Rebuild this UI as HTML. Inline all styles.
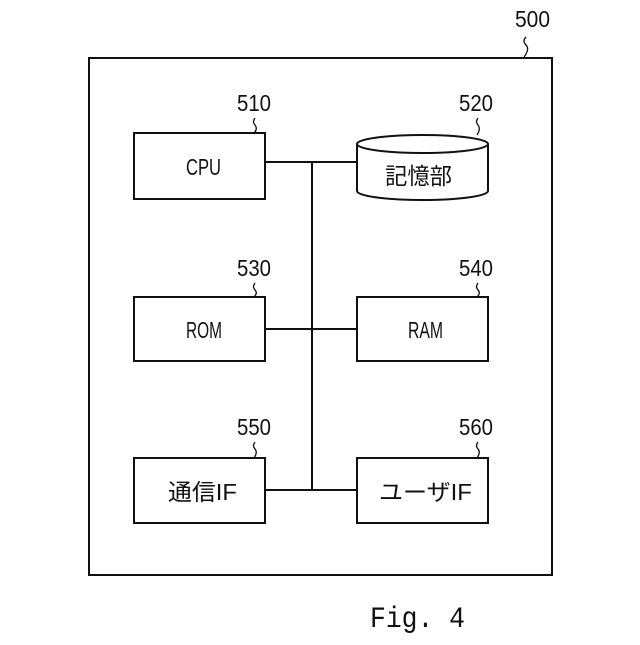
<!DOCTYPE html>
<html><head><meta charset="utf-8"><style>
html,body{margin:0;padding:0;background:#fff;}
text{font-family:"Liberation Sans","Noto Sans CJK JP",sans-serif;fill:#111;}
</style></head><body>
<svg width="640" height="640" viewBox="0 0 640 640" xmlns="http://www.w3.org/2000/svg">
<g fill="none" stroke="#111" stroke-width="2">
<rect x="89" y="58" width="463" height="517"/>
<rect x="134" y="133" width="131" height="66"/>
<path d="M357 144 V191 A65.5 9 0 0 0 488 191 V144"/>
<ellipse cx="422.5" cy="144" rx="65.5" ry="9"/>
<rect x="134" y="297" width="131" height="64"/>
<rect x="357" y="297" width="131" height="64"/>
<rect x="134" y="458" width="131" height="65"/>
<rect x="357" y="458" width="131" height="65"/>
<path d="M312 162 V490 M265 162 H357 M265 329 H357 M265 490 H357"/>
</g>
<g fill="none" stroke="#111" stroke-width="1.3">
<path d="M526 37 q-4 4 0 8 q4 4 -2 12"/>
<path d="M255 118 q-3 4 0 7 q3 4 -1 8"/>
<path d="M478 118 q-3 4 0 7 q3 4 -1 10"/>
<path d="M255 283 q-3 4 0 7 q3 3 -1 7"/>
<path d="M478 283 q-3 4 0 7 q3 3 -1 7"/>
<path d="M255 442 q-3 4 0 7 q3 3 -1 9"/>
<path d="M478 442 q-3 4 0 7 q3 3 -1 9"/>
</g>
<g font-size="23" lengthAdjust="spacingAndGlyphs">
<text x="515" y="27" textLength="35" lengthAdjust="spacingAndGlyphs">500</text>
<text x="237" y="111" textLength="34" lengthAdjust="spacingAndGlyphs">510</text>
<text x="459" y="111" textLength="34" lengthAdjust="spacingAndGlyphs">520</text>
<text x="237" y="276" textLength="34" lengthAdjust="spacingAndGlyphs">530</text>
<text x="459" y="276" textLength="34" lengthAdjust="spacingAndGlyphs">540</text>
<text x="237" y="435" textLength="34" lengthAdjust="spacingAndGlyphs">550</text>
<text x="459" y="435" textLength="34" lengthAdjust="spacingAndGlyphs">560</text>
<text x="186" y="175" textLength="35" lengthAdjust="spacingAndGlyphs">CPU</text>
<text x="385" y="184" textLength="67" lengthAdjust="spacingAndGlyphs">記憶部</text>
<text x="186" y="338" textLength="36" lengthAdjust="spacingAndGlyphs">ROM</text>
<text x="408" y="338" textLength="35" lengthAdjust="spacingAndGlyphs">RAM</text>
<text x="168" y="500" textLength="69" lengthAdjust="spacingAndGlyphs">通信IF</text>
<text x="379" y="500" textLength="93" lengthAdjust="spacingAndGlyphs">ユーザIF</text>
</g>
<text x="370" y="627" font-size="30" textLength="95" lengthAdjust="spacingAndGlyphs" style="font-family:'Liberation Mono',monospace">Fig. 4</text>
</svg>
</body></html>
